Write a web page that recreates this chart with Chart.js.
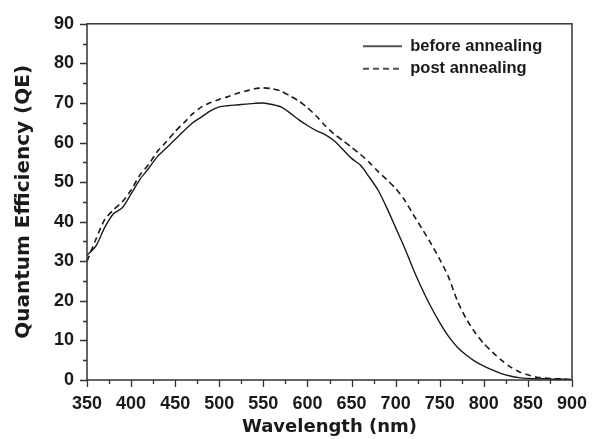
<!DOCTYPE html>
<html><head><meta charset="utf-8">
<script src="https://cdn.jsdelivr.net/npm/chart.js@4.4.0/dist/chart.umd.min.js"></script>
<style>html,body{margin:0;padding:0;background:#fff;overflow:hidden}</style>
</head><body>
<canvas id="c" width="603" height="439" style="display:block;width:603px;height:439px"></canvas>
<script>
const wavelengths = [350,360,370,380,390,400,410,420,430,440,450,460,470,480,490,500,510,520,530,540,550,560,570,580,590,600,610,620,630,640,650,660,670,680,690,700,710,720,730,740,750,760,770,780,790,800,810,820,830,840,850,860,870,880,890,900];
const qeBefore = [31.5,33.8,38.5,42,43.5,47,50.7,53.5,56.5,58.6,60.8,63,65,66.5,68,69,69.3,69.5,69.7,69.9,70,69.6,69,67.5,65.8,64.3,63,62,60.5,58.3,56,54.3,51.3,48,43.5,38.5,33.5,28,23,18.5,14.5,11,8.3,6.3,4.7,3.5,2.5,1.6,1,0.6,0.4,0.3,0.3,0.2,0.2,0.1];
const qePost = [30,35.5,40.5,43,45,48,51.8,54.5,57.8,60.2,62.8,65,67.3,69,70.1,70.9,71.6,72.4,73,73.6,73.8,73.6,73,71.8,70.5,68.8,66.7,64.3,62.2,60.5,58.8,57,55,52.7,50.6,48.4,45.5,41.8,38.2,34.5,30.5,26,20,15.5,12,9.2,7,5,3.3,2.1,1.3,0.7,0.5,0.3,0.3,0];
const seriesLabels = ['before annealing', 'post annealing'];
const xTickLabels = [350,400,450,500,550,600,650,700,750,800,850,900];
const yTickLabels = [0,10,20,30,40,50,60,70,80,90];
const xTitle = 'Wavelength (nm)';
const yTitle = 'Quantum Efficiency (QE)';

const ink = '#1a1a1a';
const tickFont = {family: '"Liberation Sans", Arial, sans-serif', size: 18, weight: 'bold'};
const titleFont = {family: '"DejaVu Sans", sans-serif', weight: 'bold'};

// legend swatch: a short line drawn with the dataset's own colour, width and dash
function lineSwatch(ds) {
  const c = document.createElement('canvas');
  c.width = 39; c.height = 4;
  const g = c.getContext('2d');
  g.strokeStyle = ds.borderColor;
  g.lineWidth = ds.borderWidth;
  g.setLineDash(ds.borderDash || []);
  g.beginPath(); g.moveTo(0, 2); g.lineTo(39, 2); g.stroke();
  return c;
}

const frameAndTicks = {
  id: 'frameAndTicks',
  afterDraw(chart) {
    const {ctx, chartArea: a, scales: {x, y}} = chart;
    ctx.save();
    ctx.strokeStyle = '#333';
    ctx.lineWidth = 1.5;
    ctx.strokeRect(a.left, a.top, a.right - a.left, a.bottom - a.top);
    ctx.lineWidth = 1.3;
    ctx.beginPath();
    for (let i = 0; i < xTickLabels.length; i++) {
      const px = Math.round(x.getPixelForValue(xTickLabels[i])) + 0.5;
      ctx.moveTo(px, a.bottom); ctx.lineTo(px, a.bottom + 7);
      if (i < xTickLabels.length - 1) {
        const m = Math.round(x.getPixelForValue((xTickLabels[i] + xTickLabels[i + 1]) / 2)) + 0.5;
        ctx.moveTo(m, a.bottom); ctx.lineTo(m, a.bottom + 4);
      }
    }
    for (let i = 0; i < yTickLabels.length; i++) {
      const py = Math.round(y.getPixelForValue(yTickLabels[i])) + 0.5;
      ctx.moveTo(a.left, py); ctx.lineTo(a.left - 7, py);
      if (i < yTickLabels.length - 1) {
        const m = Math.round(y.getPixelForValue((yTickLabels[i] + yTickLabels[i + 1]) / 2)) + 0.5;
        ctx.moveTo(a.left, m); ctx.lineTo(a.left - 4, m);
      }
    }
    ctx.stroke();
    ctx.restore();
  }
};

const legendPlace = {
  id: 'legendPlace',
  afterLayout(chart) {
    const lg = chart.legend;
    if (!lg) return;
    const pad = lg.options.labels.padding;
    const a = chart.chartArea;
    const w = lg.width, h = lg.height;
    lg.left = a.left + 276 - pad;
    lg.right = lg.left + w;
    lg.top = 38 - pad;
    lg.bottom = lg.top + h + 20;
    if (lg.adjustHitBoxes) lg.adjustHitBoxes();
  }
};

new Chart(document.getElementById('c'), {
  type: 'line',
  data: {
    datasets: [
      {
        label: seriesLabels[0],
        data: wavelengths.map((w, i) => ({x: w, y: qeBefore[i]})),
        borderColor: ink, borderWidth: 1.4, pointRadius: 0,
        tension: 0.25, fill: false
      },
      {
        label: seriesLabels[1],
        data: wavelengths.map((w, i) => ({x: w, y: qePost[i]})),
        borderColor: ink, borderWidth: 1.6, borderDash: [6, 4], pointRadius: 0,
        tension: 0.25, fill: false
      }
    ]
  },
  options: {
    responsive: false,
    animation: false,
    devicePixelRatio: 1,
    layout: {padding: {left: 0, top: 19, right: 31, bottom: 0}},
    plugins: {
      legend: {
        position: 'chartArea',
        align: 'start',
        labels: {
          usePointStyle: true,
          pointStyleWidth: 39,
          padding: 6,
          color: ink,
          font: {family: '"Liberation Sans", Arial, sans-serif', size: 16.5, weight: 'bold'},
          generateLabels(chart) {
            const items = Chart.defaults.plugins.legend.labels.generateLabels(chart);
            items.forEach(it => { it.pointStyle = lineSwatch(chart.data.datasets[it.datasetIndex]); });
            return items;
          }
        }
      },
      tooltip: {enabled: false}
    },
    scales: {
      x: {
        type: 'linear',
        min: xTickLabels[0], max: xTickLabels[xTickLabels.length - 1],
        afterBuildTicks(scale) { scale.ticks = xTickLabels.map(v => ({value: v})); },
        afterFit(scale) { scale.height = 59; },
        grid: {display: false, drawTicks: false},
        border: {display: false},
        ticks: {color: ink, font: tickFont, padding: 13, maxRotation: 0, autoSkip: false},
        title: {display: true, text: xTitle, color: ink, font: Object.assign({size: 18}, titleFont), padding: {top: 0, bottom: 1}}
      },
      y: {
        min: yTickLabels[0], max: yTickLabels[yTickLabels.length - 1],
        afterBuildTicks(scale) { scale.ticks = yTickLabels.map(v => ({value: v})); },
        afterFit(scale) { scale.width = 87; },
        grid: {display: false, drawTicks: false},
        border: {display: false},
        ticks: {color: ink, font: tickFont, padding: 13, autoSkip: false},
        title: {display: true, text: yTitle, color: ink, font: Object.assign({size: 20}, titleFont), padding: {top: 12, bottom: 0}}
      }
    }
  },
  plugins: [frameAndTicks, legendPlace]
});
</script>
</body></html>
